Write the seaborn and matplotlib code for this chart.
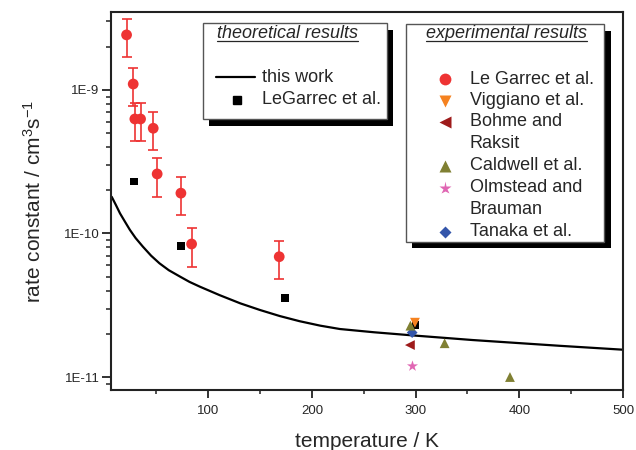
import numpy as np
import pandas as pd
import matplotlib
matplotlib.use('Agg')
import matplotlib.pyplot as plt
import seaborn as sns
from matplotlib.patches import Rectangle
from matplotlib.lines import Line2D
from matplotlib.ticker import FixedLocator, LogLocator, FuncFormatter, NullFormatter, MultipleLocator

# theory curve - this work
curve_T = [7, 11, 15, 20, 24.5, 30, 37, 45, 53, 62, 73, 82, 92, 111, 131, 150, 169, 188, 208,
           227, 260, 297, 355, 439, 500]
curve_k = [1.80e-10, 1.58e-10, 1.38e-10, 1.20e-10, 1.06e-10, 9.3e-11, 8.1e-11, 7.0e-11, 6.2e-11,
           5.55e-11, 5.0e-11, 4.6e-11, 4.26e-11, 3.72e-11, 3.26e-11, 2.93e-11, 2.66e-11, 2.45e-11,
           2.28e-11, 2.16e-11, 2.05e-11, 1.95e-11, 1.81e-11, 1.65e-11, 1.55e-11]

# LeGarrec et al. (theory)
theo_T = [28.6, 73.7, 174, 300]
theo_k = [2.30e-10, 8.18e-11, 3.57e-11, 2.30e-11]

# Le Garrec et al. (experiment) with error bars
lg_T = [21.3, 27.7, 29.3, 34.8, 47, 50.8, 73.7, 84, 168.5]
lg_k = [2.42e-9, 1.10e-9, 6.28e-10, 6.28e-10, 5.41e-10, 2.60e-10, 1.91e-10, 8.45e-11, 6.89e-11]
lg_hi = [3.13e-9, 1.42e-9, 8.16e-10, 8.16e-10, 7.0e-10, 3.37e-10, 2.47e-10, 1.10e-10, 8.91e-11]
lg_lo = [1.69e-9, 7.74e-10, 4.44e-10, 4.44e-10, 3.82e-10, 1.80e-10, 1.35e-10, 5.87e-11, 4.82e-11]

# other experiments
vig_T, vig_k = [299.4], [2.39e-11]
boh_T, boh_k = [294.5], [1.67e-11]
cal_T, cal_k = [295, 328, 391], [2.28e-11, 1.72e-11, 1.0e-11]
olm_T, olm_k = [297], [1.19e-11]
tan_T, tan_k = [296.7], [2.04e-11]

y_major = [1e-11, 1e-10, 1e-9]

c_red = '#EE3333'
c_orange = '#F58220'
c_boh = '#9E1B1B'
c_cal = '#808033'
c_olm = '#E066B3'
c_tan = '#3355AA'
txt = '#262626'

sns.set_theme(style='ticks')
plt.rcParams['font.family'] = ['Liberation Sans', 'DejaVu Sans']
plt.rcParams['mathtext.fontset'] = 'custom'
plt.rcParams['mathtext.rm'] = 'Liberation Sans'
plt.rcParams['mathtext.it'] = 'Liberation Sans:italic'
plt.rcParams['axes.linewidth'] = 1.5
plt.rcParams['axes.edgecolor'] = '#222222'

W, H = 636, 450
fig = plt.figure(figsize=(W / 100, H / 100), dpi=100)
ax = fig.add_axes([110.7 / W, 1 - 390 / H, (623 - 110.7) / W, (390 - 11.7) / H])

def fx(px):
    return px / W

def fy(py):
    return 1 - py / H

curve = pd.DataFrame({'T': curve_T, 'k': curve_k})
sns.lineplot(data=curve, x='T', y='k', color='black', linewidth=1.6, ax=ax, zorder=2)

yerr = [np.array(lg_k) - np.array(lg_lo), np.array(lg_hi) - np.array(lg_k)]
ax.errorbar(lg_T, lg_k, yerr=yerr, fmt='none', ecolor=c_red, elinewidth=1.2,
            capsize=3.3, capthick=1.2, zorder=3)
sns.scatterplot(x=lg_T, y=lg_k, marker='o', s=60, color=c_red, edgecolor='none', ax=ax, zorder=4)

sns.scatterplot(x=tan_T, y=tan_k, marker='D', s=30, color=c_tan, edgecolor='none', ax=ax, zorder=3)
sns.scatterplot(x=theo_T, y=theo_k, marker='s', s=30, color='black', edgecolor='none', ax=ax, zorder=4)
sns.scatterplot(x=cal_T, y=cal_k, marker='^', s=50, color=c_cal, edgecolor='none', ax=ax, zorder=5)
sns.scatterplot(x=vig_T, y=vig_k, marker='v', s=50, color=c_orange, edgecolor='none', ax=ax, zorder=6)
sns.scatterplot(x=boh_T, y=boh_k, marker='<', s=50, color=c_boh, edgecolor='none', ax=ax, zorder=5)
sns.scatterplot(x=olm_T, y=olm_k, marker='*', s=70, color=c_olm, edgecolor='none', ax=ax, zorder=5)

ax.set_yscale('log')
ax.set_xlim(6, 500)
ax.set_ylim(8.12e-12, 3.51e-9)
ax.xaxis.set_major_locator(MultipleLocator(100))
ax.xaxis.set_minor_locator(MultipleLocator(50))
ax.yaxis.set_major_locator(FixedLocator(y_major))
ax.yaxis.set_minor_locator(LogLocator(base=10, subs=np.arange(2, 10), numticks=20))
ax.yaxis.set_major_formatter(FuncFormatter(lambda v, p: '1E%d' % round(np.log10(v))))
ax.yaxis.set_minor_formatter(NullFormatter())
ax.tick_params(axis='both', which='major', labelsize=9.5, labelcolor=txt, width=1.3,
               length=5.5, pad=5, color='#222222')
ax.tick_params(axis='both', which='minor', width=1.1, length=3, color='#222222')
ax.tick_params(axis='y', which='major', length=6.5, pad=1.5)
ax.tick_params(axis='y', which='minor', length=3.8)

ax.set_xlabel('temperature / K', fontsize=15, color=txt, labelpad=11)
ax.set_ylabel('rate constant / cm$^{3}$s$^{-1}$', fontsize=15, color=txt, labelpad=14)
ax.grid(False)

# legend boxes drawn by hand (shadowed, underlined italic titles)
def box(l, t, r, b, title, tcx):
    fig.add_artist(Rectangle((fx(l + 6.5), fy(b + 6.5)), fx(r - l), (b - t) / H,
                             transform=fig.transFigure, facecolor='black', edgecolor='none', zorder=8))
    fig.add_artist(Rectangle((fx(l), fy(b)), fx(r - l), (b - t) / H,
                             transform=fig.transFigure, facecolor='white', edgecolor='#555555',
                             linewidth=1.0, zorder=9))
    t_obj = fig.text(fx(tcx), fy(33), title, fontsize=13, style='italic', color=txt,
                     ha='center', va='center', zorder=10)
    fig.canvas.draw()
    bb = t_obj.get_window_extent()
    fig.add_artist(Line2D([bb.x0 / W, bb.x1 / W], [fy(40.7), fy(40.7)], transform=fig.transFigure,
                          color=txt, linewidth=0.9, zorder=10))

box(202.7, 23.3, 386.7, 119.3, 'theoretical results', 287.5)
box(405.7, 24, 604, 241.7, 'experimental results', 506)

fig.add_artist(Line2D([fx(216), fx(255)], [fy(77), fy(77)], transform=fig.transFigure,
                      color='black', linewidth=1.6, zorder=10))
fig.text(fx(261.7), fy(77), 'this work', fontsize=13, color=txt, va='center', zorder=10)
fig.add_artist(Line2D([fx(236.7)], [fy(100)], marker='s', markersize=6, color='black',
                      linestyle='none', transform=fig.transFigure, zorder=10))
fig.text(fx(261.7), fy(100), 'LeGarrec et al.', fontsize=13, color=txt, va='center', zorder=10)

exp_entries = [
    (79, 'o', 8.5, c_red, 'Le Garrec et al.'),
    (100.7, 'v', 8.5, c_orange, 'Viggiano et al.'),
    (121.7, '<', 8.5, c_boh, 'Bohme and'),
    (166, '^', 8.5, c_cal, 'Caldwell et al.'),
    (188, '*', 9.5, c_olm, 'Olmstead and'),
    (231.7, 'D', 6.5, c_tan, 'Tanaka et al.'),
]
for yy, mk, ms, col, lab in exp_entries:
    fig.add_artist(Line2D([fx(445)], [fy(yy)], marker=mk, markersize=ms, color=col,
                          markeredgecolor='none', linestyle='none', transform=fig.transFigure, zorder=10))
    fig.text(fx(470), fy(yy), lab, fontsize=13, color=txt, va='center', zorder=10)
fig.text(fx(470), fy(143), 'Raksit', fontsize=13, color=txt, va='center', zorder=10)
fig.text(fx(470), fy(210), 'Brauman', fontsize=13, color=txt, va='center', zorder=10)

fig.savefig('out.png', dpi=100)
